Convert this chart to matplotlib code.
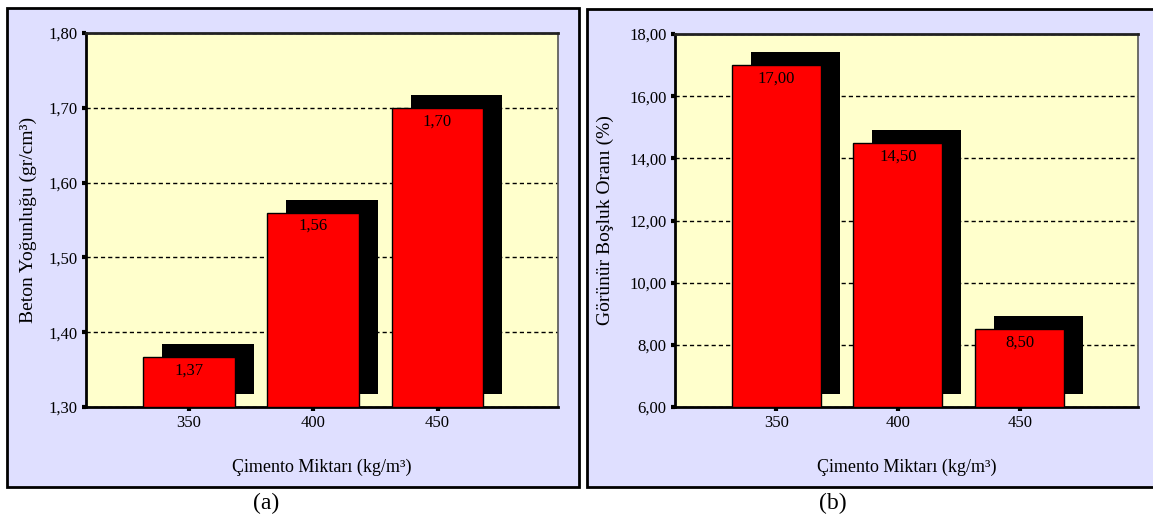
import matplotlib
matplotlib.use("Agg")
import matplotlib.pyplot as plt
import matplotlib.transforms as mtransforms
from matplotlib.patches import Rectangle

plt.rcParams['font.family'] = ['Liberation Serif', 'DejaVu Serif']

# =============================================================================
# data
# =============================================================================
cement = ['350', '400', '450']
density = [1.367, 1.56, 1.70]
voids = [17.0, 14.5, 8.5]

density_ticks = [1.30, 1.40, 1.50, 1.60, 1.70, 1.80]
density_ticklabels = ['1,30', '1,40', '1,50', '1,60', '1,70', '1,80']
voids_ticks = [6, 8, 10, 12, 14, 16, 18]
voids_ticklabels = ['6,00', '8,00', '10,00', '12,00', '14,00', '16,00', '18,00']

xlabel = 'Çimento Miktarı (kg/m³)'
ylabel_a = 'Beton Yoğunluğu (gr/cm³)'
ylabel_b = 'Görünür Boşluk Oranı (%)'

W, H = 1153, 518
fig = plt.figure(figsize=(W / 100, H / 100), dpi=100)
fig.patch.set_facecolor('white')

# panel frames (pixel coords from top-left)
def px_box(x0, y0, x1, y1):
    return [x0 / W, 1 - y1 / H, (x1 - x0) / W, (y1 - y0) / H]

for x0, y0, x1, y1 in [(7, 8, 579, 487), (587, 9, 1160, 487)]:
    l, b, w, h = px_box(x0, y0, x1, y1)
    fig.patches.append(Rectangle((l, b), w, h, transform=fig.transFigure,
                                 facecolor='#DFDFFF', edgecolor='black',
                                 linewidth=2, zorder=-5))


def panel(rect, values, ticks, ticklabels, ylabel, ylab_x, width, fmt):
    ax = fig.add_axes(px_box(*rect))
    ax.set_zorder(2)
    ax.set_facecolor('#FFFFCC')
    ax.set_axisbelow(True)
    x = list(range(len(values)))
    base = ticks[0]
    heights = [v - base for v in values]
    # shadows shifted right/up in pixels
    shift = mtransforms.ScaledTranslation(0.19, 0.13, fig.dpi_scale_trans)
    ax.bar(x, heights, width=width, bottom=base, color='black',
           linewidth=0, transform=ax.transData + shift, zorder=2)
    ax.bar(x, heights, width=width, bottom=base, color='#FF0000',
           edgecolor='black', linewidth=1, zorder=3)
    for xi, v in zip(x, values):
        ax.annotate(fmt(v), (xi, v), xytext=(0, -4), textcoords='offset points',
                    ha='center', va='top', fontsize=12, zorder=4)
    ax.set_xlim(-0.83, 2.97)
    ax.set_ylim(ticks[0], ticks[-1])
    ax.set_yticks(ticks)
    ax.set_yticklabels(ticklabels)
    ax.set_xticks(x)
    ax.set_xticklabels(cement)
    ax.yaxis.grid(True, color='black', linestyle=(0, (3, 2.2)), linewidth=1)
    ax.tick_params(axis='both', direction='out', length=3, width=3,
                   labelsize=12, pad=3)
    for s in ['left', 'bottom', 'top']:
        ax.spines[s].set_linewidth(2)
    ax.spines['top'].set_color('#222222')
    ax.spines['right'].set_linewidth(1.2)
    ax.spines['right'].set_color('#555555')
    ax.set_ylabel(ylabel, fontsize=14)
    ax.yaxis.set_label_coords(ylab_x, 0.5)
    return ax


ax1 = panel((86, 33, 558, 407), density, density_ticks, density_ticklabels,
            ylabel_a, -0.104, 0.74, lambda v: f"{v:.2f}".replace('.', ','))
ax2 = panel((675, 34, 1138, 407), voids, voids_ticks, voids_ticklabels,
            ylabel_b, -0.132, 0.73, lambda v: f"{v:.2f}".replace('.', ','))

fig.text(322 / W, 1 - 467 / H, xlabel, ha='center', va='center', fontsize=13)
fig.text(907 / W, 1 - 467 / H, xlabel, ha='center', va='center', fontsize=13)
fig.text(266 / W, 1 - 503 / H, '(a)', ha='center', va='center', fontsize=17)
fig.text(833 / W, 1 - 503 / H, '(b)', ha='center', va='center', fontsize=17)

fig.savefig('out.png', dpi=100)
